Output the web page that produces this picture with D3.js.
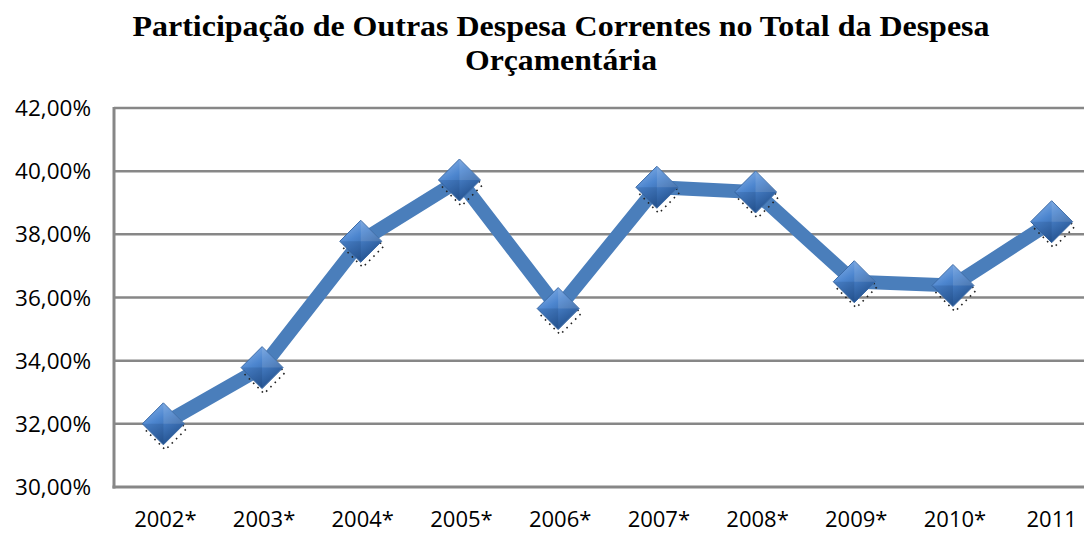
<!DOCTYPE html>
<html>
<head>
<meta charset="utf-8">
<script src="https://cdn.jsdelivr.net/npm/d3@7"></script>
<style>
  body { margin: 0; background: #fff; }
  svg { display: block; }
</style>
</head>
<body>
<div id="chart"></div>
<script>
let width  = 1084,
    height = 533;

let titleLines = ["Participação de Outras Despesa Correntes no Total da Despesa", "Orçamentária"];
let years  = ["2002*", "2003*", "2004*", "2005*", "2006*", "2007*", "2008*", "2009*", "2010*", "2011"];
let shares = [32.0, 33.78, 37.78, 39.72, 35.65, 39.49, 39.34, 36.5, 36.38, 38.4];
let yTicks = [30, 32, 34, 36, 38, 40, 42];

let plot = {left: 114, right: 1101, top: 108, bottom: 487};

let svg =
  d3.select("#chart")
    .append("svg")
      .attr("width", width)
      .attr("height", height);

let defs = svg.append("defs");

let grad = defs.append("linearGradient")
    .attr("id", "gem")
    .attr("x1", "0").attr("y1", "0")
    .attr("x2", "0.6").attr("y2", "1");
grad.append("stop").attr("offset", "0%").attr("stop-color", "#8fb8ec");
grad.append("stop").attr("offset", "45%").attr("stop-color", "#4d86cf");
grad.append("stop").attr("offset", "100%").attr("stop-color", "#24528f");

let x = d3.scalePoint()
    .domain(years)
    .range([plot.left, plot.right])
    .padding(0.5);

let y = d3.scaleLinear()
    .domain([30, 42])
    .range([plot.bottom, plot.top]);

// gridlines
svg.append("g")
  .selectAll("line")
  .data(yTicks.filter(d => d > 30))
  .enter()
  .append("line")
    .attr("x1", plot.left)
    .attr("x2", width)
    .attr("y1", d => y(d))
    .attr("y2", d => y(d))
    .attr("stroke", "#878787")
    .attr("stroke-width", 2.5);

// axes lines
svg.append("line")
    .attr("x1", plot.left).attr("x2", plot.left)
    .attr("y1", plot.top - 1).attr("y2", plot.bottom + 1.5)
    .attr("stroke", "#878787").attr("stroke-width", 3);
svg.append("line")
    .attr("x1", plot.left - 1.5).attr("x2", width)
    .attr("y1", plot.bottom).attr("y2", plot.bottom)
    .attr("stroke", "#878787").attr("stroke-width", 3);

// y tick labels
svg.append("g")
  .selectAll("text")
  .data(yTicks)
  .enter()
  .append("text")
    .attr("x", 91)
    .attr("y", d => y(d))
    .attr("dy", "0.36em")
    .attr("text-anchor", "end")
    .attr("font-family", "'Open Sans', sans-serif")
    .attr("font-size", 22.5)
    .attr("fill", "#000")
    .text(d => d.toFixed(2).replace(".", ",") + "%");

// x tick labels
svg.append("g")
  .selectAll("text")
  .data(years)
  .enter()
  .append("text")
    .attr("x", d => x(d) + (d.endsWith("*") ? 2 : 0))
    .attr("y", plot.bottom + 40)
    .attr("text-anchor", "middle")
    .attr("font-family", "'Open Sans', sans-serif")
    .attr("font-size", 22)
    .attr("fill", "#000")
    .text(d => d);

// series line
let line = d3.line()
    .x((d, i) => x(years[i]))
    .y(d => y(d));

svg.append("path")
    .datum(shares)
    .attr("d", line)
    .attr("fill", "none")
    .attr("stroke", "#4a7ebb")
    .attr("stroke-width", 14)
    .attr("stroke-linejoin", "miter");

// markers
let r = 21;
let diamond = "M0," + (-r) + "L" + r + ",0L0," + r + "L" + (-r) + ",0Z";

let marks = svg.append("g")
  .selectAll("g")
  .data(shares)
  .enter()
  .append("g")
    .attr("transform", (d, i) => "translate(" + x(years[i]) + "," + y(d) + ")");

// dotted shadow
marks.append("path")
    .attr("d", diamond)
    .attr("transform", "translate(2,5)")
    .attr("fill", "none")
    .attr("stroke", "#222")
    .attr("stroke-width", 1.6)
    .attr("stroke-dasharray", "1.6 4.5");

marks.append("path")
    .attr("d", diamond)
    .attr("fill", "url(#gem)")
    .attr("stroke", "#3b6aa6")
    .attr("stroke-width", 1);

// bevel facets
marks.append("path")
    .attr("d", "M0," + (-r) + "L" + r + ",0L0,0Z")
    .attr("fill", "#ffffff")
    .attr("opacity", 0.12);
marks.append("path")
    .attr("d", "M0," + r + "L" + (-r) + ",0L0,0Z")
    .attr("fill", "#0a2a55")
    .attr("opacity", 0.15);

// title
svg.append("g")
  .selectAll("text")
  .data(titleLines)
  .enter()
  .append("text")
    .attr("x", 561)
    .attr("y", (d, i) => 36 + i * 34)
    .attr("text-anchor", "middle")
    .attr("font-family", "'Liberation Serif', 'Times New Roman', serif")
    .attr("font-weight", "bold")
    .attr("font-size", 30)
    .attr("textLength", (d, i) => i === 0 ? 857 : 192)
    .attr("lengthAdjust", "spacingAndGlyphs")
    .attr("fill", "#000")
    .text(d => d);
</script>
</body>
</html>
